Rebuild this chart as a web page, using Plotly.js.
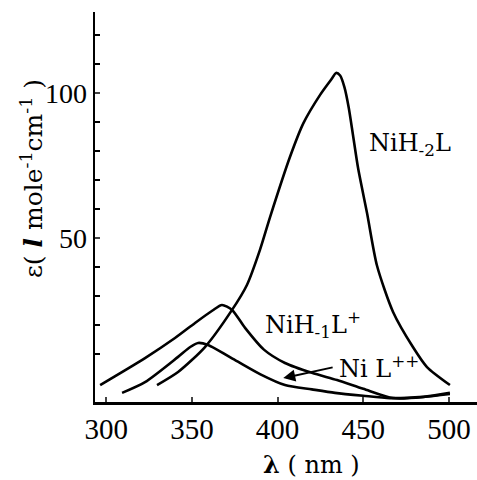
<!DOCTYPE html>
<html>
<head>
<meta charset="utf-8">
<script src="https://cdn.plot.ly/plotly-3.0.1.min.js"></script>
<style>html,body{margin:0;padding:0;background:#fff;}#chart{width:477px;height:480px;}</style>
</head>
<body>
<div id="chart"></div>
<script>
// Wavelength (nm) and molar absorptivity
const lamNiH2L = [329.6, 341.9, 357.6, 373.4, 382.1, 389.7, 395.6, 407.2, 415.0, 425.0, 431.5, 434.1, 436.5, 439.0, 441.5, 444.0, 447.0, 452.2, 458.0, 467.4, 479.0, 487.2, 500.6];
const epsNiH2L = [-0.7, 3.8, 12.4, 25.2, 33.8, 45.9, 57.2, 77.9, 89.5, 99.5, 104.8, 106.9, 106.0, 102.0, 95.0, 85.5, 74.0, 58.6, 40.5, 24.5, 12.4, 5.5, -0.7];

const lamNiH1L = [296.4, 322.6, 340.1, 351.8, 362.0, 367.5, 373.4, 381.0, 392.0, 404.3, 420.0, 434.7, 450.0, 467.4, 485.0, 500.6];
const epsNiH1L = [-0.7, 8.6, 15.5, 20.7, 25.0, 26.9, 25.2, 19.0, 11.5, 6.9, 3.5, 1.0, -2.0, -5.2, -4.8, -3.4];

const lamNiL = [309.2, 322.6, 341.9, 349.0, 353.6, 359.4, 375.2, 390.0, 404.3, 420.0, 433.5, 450.0, 465.6, 485.0, 500.6];
const epsNiL = [-3.4, 0.3, 9.0, 12.4, 13.8, 13.1, 7.9, 3.0, -0.7, -2.2, -3.4, -4.4, -5.2, -4.8, -3.8];

const xTicks = [300, 350, 400, 450, 500];
const yTicks = [50, 100];
const yMinorTicks = [10, 20, 30, 40, 60, 70, 80, 90, 110, 120];

const lineStyle = {color: '#000', width: 2.6, shape: 'spline', smoothing: 0.7};
const traces = [
  {x: lamNiH2L, y: epsNiH2L, mode: 'lines', line: lineStyle, name: 'NiH-2L', hoverinfo: 'skip'},
  {x: lamNiH1L, y: epsNiH1L, mode: 'lines', line: lineStyle, name: 'NiH-1L+', hoverinfo: 'skip'},
  {x: lamNiL, y: epsNiL, mode: 'lines', line: lineStyle, name: 'NiL++', hoverinfo: 'skip'}
];

const serif = 'Liberation Serif, Times New Roman, serif';
const wide = 'DejaVu Serif, serif';

const layout = {
  width: 477, height: 480,
  margin: {l: 95, r: 0, t: 12, b: 78},
  paper_bgcolor: '#fff', plot_bgcolor: '#fff',
  showlegend: false,
  xaxis: {
    range: [293.4, 516.4], tickvals: xTicks, ticks: 'inside', ticklen: 5, tickwidth: 2,
    showline: true, linewidth: 2.5, linecolor: '#000', showgrid: false, zeroline: false,
    tickfont: {family: serif, size: 29, color: '#000'}
  },
  yaxis: {
    range: [-6.55, 127.9], tickvals: yTicks, ticks: 'inside', ticklen: 5, tickwidth: 2,
    minor: {tickvals: yMinorTicks, ticks: 'inside', ticklen: 5, tickwidth: 2, tickcolor: '#000', showgrid: false},
    showline: true, linewidth: 2.5, linecolor: '#000', showgrid: false, zeroline: false,
    tickfont: {family: serif, size: 28, color: '#000'}
  },
  annotations: [
    {xref: 'x', yref: 'y', x: 452.1, y: 82.1, xanchor: 'left', yanchor: 'middle', showarrow: false,
     text: 'NiH<sub>-2</sub>L', font: {family: wide, size: 24, color: '#000'}},
    {xref: 'x', yref: 'y', x: 391.6, y: 20.0, xanchor: 'left', yanchor: 'middle', showarrow: false,
     text: 'NiH<sub>-1</sub>L<sup>+</sup>', font: {family: wide, size: 24, color: '#000'}},
    {xref: 'x', yref: 'y', x: 434.7, y: 5.5, xanchor: 'left', yanchor: 'middle', showarrow: false,
     text: 'Ni L<sup>++</sup>', font: {family: wide, size: 24, color: '#000'}},
    {xref: 'x', yref: 'y', x: 403.3, y: 1.7, axref: 'x', ayref: 'y', ax: 433.0, ay: 5.5,
     showarrow: true, arrowhead: 2, arrowsize: 1.2, arrowwidth: 2, arrowcolor: '#000', text: ''},
    {xref: 'paper', yref: 'paper', x: -0.165, y: 0.574, textangle: -90, showarrow: false,
     xanchor: 'center', yanchor: 'middle',
     text: 'ε( <b><i>l</i></b> mole<sup>-1</sup>cm<sup>-1</sup> )', font: {family: wide, size: 25, color: '#000'}},
    {xref: 'paper', yref: 'paper', x: 0.568, y: -0.16, showarrow: false,
     xanchor: 'center', yanchor: 'middle',
     text: '<b>λ</b> ( nm )', font: {family: wide, size: 24, color: '#000'}}
  ]
};

Plotly.newPlot('chart', traces, layout, {staticPlot: true, displayModeBar: false});
</script>
</body>
</html>
